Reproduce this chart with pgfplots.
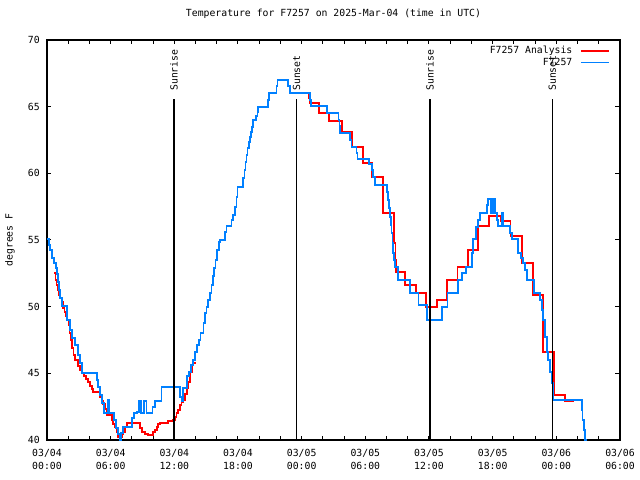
\documentclass[border=0pt]{standalone}
\usepackage{pgfplots}
\usepackage{pgfplotstable}
\pgfplotsset{compat=1.18}
\usepackage{fontspec}
\setmainfont{DejaVu Sans Mono}
\definecolor{obsblue}{RGB}{0,128,255}
\definecolor{anared}{RGB}{255,0,0}
\newcommand{\gfont}{\fontsize{9.8bp}{13bp}\selectfont}
\pgfplotstableread{
x y
0.69 52.5
0.80 52.0
0.90 51.6
1.04 51.25
1.13 50.9
1.27 50.65
1.39 50.35
1.51 49.9
1.65 49.6
1.79 49.3
1.93 49.0
2.03 48.6
2.12 48.0
2.26 47.5
2.36 46.9
2.50 46.4
2.64 46.0
2.95 45.55
3.11 45.25
3.30 45.0
3.49 44.8
3.68 44.6
3.89 44.35
4.05 44.05
4.24 43.8
4.36 43.6
4.99 43.2
5.14 42.9
5.31 42.7
5.47 42.3
5.63 41.9
6.10 41.5
6.22 41.2
6.41 41.0
6.55 40.6
6.66 40.2
7.04 40.45
7.19 40.6
7.35 40.95
7.57 41.25
8.76 40.9
8.92 40.6
9.24 40.45
9.55 40.4
9.96 40.6
10.18 40.75
10.34 41.0
10.46 41.2
10.65 41.3
11.43 41.4
11.90 41.5
12.06 41.7
12.20 42.0
12.37 42.25
12.53 42.6
12.68 42.85
12.85 43.0
13.01 43.45
13.17 43.9
13.32 44.35
13.48 45.1
13.64 45.6
13.73 45.75
14.04 45.75
}\redA
\pgfplotstableread{
x y
24.63 66.05
24.72 65.65
24.79 65.3
25.66 64.55
26.60 63.9
27.77 63.1
28.72 62.0
29.75 60.75
30.60 59.75
31.69 57.0
32.73 54.75
32.84 53.5
32.89 52.6
33.74 51.6
34.75 51.0
35.72 50.0
36.73 50.25
36.78 50.5
37.72 52.0
38.70 52.95
39.70 54.25
40.64 56.05
41.68 56.8
42.76 56.4
43.68 55.3
44.78 53.3
45.80 50.9
46.74 46.6
47.78 43.4
48.82 42.9
49.69 42.9
}\redB
\pgfplotstableread{
x y
0 55.1
0.19 54.6
0.28 54.25
0.47 53.65
0.66 53.28
0.85 52.9
0.94 52.45
1.04 51.85
1.13 51.25
1.23 50.65
1.41 50.05
1.88 49.0
2.17 48.25
2.36 47.65
2.64 47.1
2.92 46.4
3.11 45.8
3.30 45.0
4.71 44.5
4.81 44.0
4.99 43.4
5.18 42.8
5.37 42.0
5.75 43.0
5.82 42.0
6.31 41.5
6.50 40.9
6.69 40.45
6.83 40.0
6.97 40.5
7.16 41.0
8.01 41.65
8.20 42.0
8.48 42.1
8.67 42.9
8.86 42.0
9.14 42.9
9.38 42.0
9.94 42.5
10.18 42.9
10.79 44.0
12.53 43.2
12.68 42.9
12.82 43.9
13.19 44.8
13.38 45.1
13.57 45.6
13.76 46.0
13.95 46.6
14.14 47.1
14.32 47.5
14.47 48.0
14.75 48.8
14.89 49.5
15.03 50.0
15.17 50.5
15.36 51.0
15.50 51.6
15.64 52.3
15.74 52.9
15.88 53.5
16.02 54.25
16.21 54.85
16.30 55.0
16.78 55.6
16.92 56.05
17.39 56.5
17.53 56.9
17.72 57.5
17.86 58.2
17.95 59.0
18.50 59.65
18.61 60.25
18.71 60.85
18.80 61.4
18.90 61.9
19.04 62.35
19.13 62.7
19.23 63.1
19.32 63.5
19.44 64.0
19.70 64.3
19.84 64.6
19.91 65.0
20.83 65.5
20.92 66.0
21.63 66.55
21.72 67.0
22.74 66.55
22.90 66.0
24.79 65.5
24.88 65.05
26.36 64.5
27.47 64.0
27.57 63.55
27.61 63.0
28.55 62.5
28.70 62.0
29.17 61.5
29.26 61.1
30.35 60.7
30.60 60.25
30.75 59.7
30.91 59.1
32.01 58.6
32.14 58.0
32.23 57.4
32.32 56.7
32.42 56.1
32.48 55.5
32.56 54.8
32.63 54.0
32.70 53.5
32.79 53.0
33.11 52.0
34.21 51.0
35.00 50.1
35.84 49.0
37.20 50.0
37.73 51.0
38.76 52.0
39.11 52.5
39.49 53.0
40.02 54.0
40.12 55.1
40.40 56.0
40.62 56.5
40.81 57.0
41.44 57.6
41.53 58.1
41.84 57.0
42.06 58.1
42.22 57.0
42.38 56.5
42.53 56.05
42.85 57.0
42.95 56.05
43.63 55.5
43.85 55.1
44.42 54.0
44.67 53.65
44.89 53.3
45.05 52.75
45.21 52.0
45.90 51.0
46.46 50.5
46.62 49.75
46.77 49.0
46.93 47.7
47.09 46.6
47.24 46.0
47.40 45.1
47.56 44.3
47.71 43.0
50.39 42.25
50.48 41.5
50.61 40.75
50.70 40.0
50.80 39.25
50.90 38.5
}\blueobs
\pgfplotstableread{
x y
11.97 40
11.97 65.58
}\sunA
\pgfplotstableread{
x y
23.53 40
23.53 65.58
}\sunB
\pgfplotstableread{
x y
36.09 40
36.09 65.58
}\sunC
\pgfplotstableread{
x y
47.62 40
47.62 65.58
}\sunD
\begin{document}
\begin{tikzpicture}
\useasboundingbox (-47bp,-40bp) rectangle (593bp,440bp);
\begin{axis}[
  at={(0,0)}, anchor=south west,
  scale only axis, width=573bp, height=400bp,
  xmin=0, xmax=54, ymin=40, ymax=70,
  xtick={0,6,...,54},
  xticklabels={{03/04\\00:00},{03/04\\06:00},{03/04\\12:00},{03/04\\18:00},{03/05\\00:00},{03/05\\06:00},{03/05\\12:00},{03/05\\18:00},{03/06\\00:00},{03/06\\06:00}},
  minor x tick num=2,
  ytick={40,45,50,55,60,65,70},
  yticklabels={40,45,50,55,60,65,70},
  tick align=inside, xtick pos=both, ytick pos=both,
  major tick length=4.5bp, minor tick length=4bp,
  every tick/.style={black, line width=1bp},
  axis line style={black, line width=1.1bp},
  xticklabel style={font=\gfont, align=center, anchor=north, inner sep=0pt, yshift=-9bp},
  yticklabel style={font=\gfont, anchor=east, inner sep=0pt, xshift=-7bp},
  title={Temperature for F7257 on 2025-Mar-04 (time in UTC)},
  title style={font=\gfont, at={(axis description cs:0.5,1)}, anchor=center, yshift=20bp, inner sep=0pt},
  ylabel={degrees F},
  ylabel style={font=\gfont, at={(axis description cs:-0.0646,0.5)}, anchor=center, inner sep=0pt},
  legend plot pos=right,
  legend cell align=right,
  legend image code/.code={\draw[#1] (0bp,0bp) -- (28bp,0bp);},
  legend style={at={(1,1)}, anchor=north east, xshift=-10bp, yshift=-6bp, draw=none, fill=none, inner sep=0pt, column sep=7.7bp, row sep=3bp, font=\gfont, nodes={inner sep=0pt}},
]
\addplot[const plot, draw=anared, line width=1.7bp, mark=none] table {\redA};
\addlegendentry{F7257 Analysis}
\addplot[const plot, draw=anared, line width=1.7bp, mark=none, forget plot] table {\redB};
\addplot[const plot, draw=obsblue, line width=1.7bp, mark=none] table {\blueobs};
\addlegendentry{F7257}
\addplot[draw=black, line width=1.6bp, mark=none, forget plot] table {\sunA};
\addplot[draw=black, line width=1.6bp, mark=none, forget plot] table {\sunB};
\addplot[draw=black, line width=1.6bp, mark=none, forget plot] table {\sunC};
\addplot[draw=black, line width=1.6bp, mark=none, forget plot] table {\sunD};
\node[rotate=90, anchor=west, inner sep=0pt, font=\gfont, xshift=1bp] at (axis cs:11.97,66.1) {Sunrise};
\node[rotate=90, anchor=west, inner sep=0pt, font=\gfont, xshift=1bp] at (axis cs:23.53,66.1) {Sunset};
\node[rotate=90, anchor=west, inner sep=0pt, font=\gfont, xshift=1bp] at (axis cs:36.09,66.1) {Sunrise};
\node[rotate=90, anchor=west, inner sep=0pt, font=\gfont, xshift=1bp] at (axis cs:47.62,66.1) {Sunset};
\end{axis}
\end{tikzpicture}
\end{document}
